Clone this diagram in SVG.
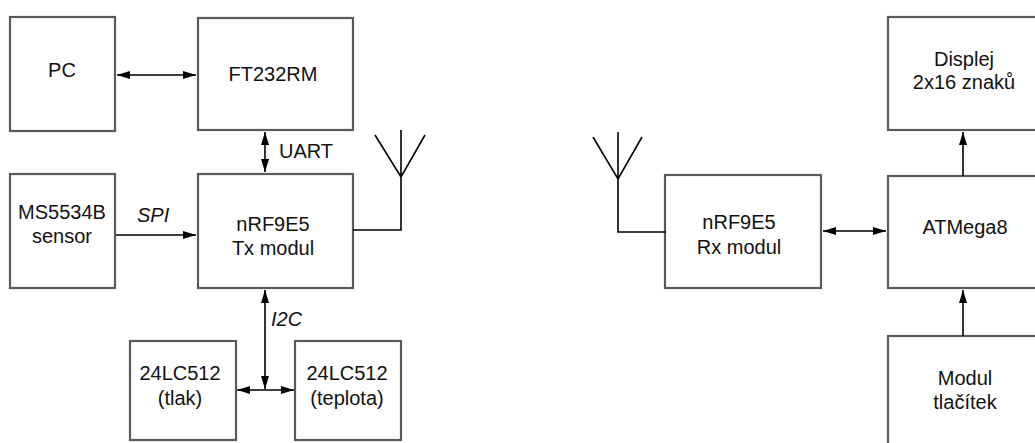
<svg xmlns="http://www.w3.org/2000/svg" width="1035" height="443" viewBox="0 0 1035 443">
<style>
.box{fill:#fff;stroke:#5a5a5a;stroke-width:2.2}
.t{font-family:"Liberation Sans",Arial,sans-serif;font-size:20px;fill:#111;text-anchor:middle}
.lbl{font-family:"Liberation Sans",Arial,sans-serif;font-size:20px;fill:#111}
.it{font-style:italic}
.c{fill:none;stroke:#000;stroke-width:1.6}
</style>
<defs>
<marker id="ah" markerUnits="userSpaceOnUse" markerWidth="14" markerHeight="10" refX="13" refY="5" orient="auto-start-reverse">
<path d="M0,1 L13,5 L0,9 Z" fill="#000"/>
</marker>
</defs>
<rect width="1035" height="443" fill="#fff"/>
<g id="pc"><rect class="box" x="10" y="17" width="105" height="114"/><text class="t" x="62" y="77">PC</text></g>
<g id="ft232rm"><rect class="box" x="198" y="18" width="155" height="112"/><text class="t" x="273" y="81">FT232RM</text></g>
<g id="ms5534b"><rect class="box" x="10" y="174" width="105" height="114"/><text class="t" x="62" y="219">MS5534B</text><text class="t" x="62" y="243">sensor</text></g>
<g id="nrf-tx"><rect class="box" x="198" y="174" width="155" height="114"/><text class="t" x="273" y="231">nRF9E5</text><text class="t" x="273" y="255">Tx modul</text></g>
<g id="eeprom-tlak"><rect class="box" x="130" y="341" width="106" height="99"/><text class="t" x="180" y="380">24LC512</text><text class="t" x="180" y="405">(tlak)</text></g>
<g id="eeprom-teplota"><rect class="box" x="295" y="341" width="106" height="99"/><text class="t" x="347" y="380">24LC512</text><text class="t" x="347" y="405">(teplota)</text></g>
<g id="nrf-rx"><rect class="box" x="665" y="175" width="156" height="113"/><text class="t" x="739" y="229">nRF9E5</text><text class="t" x="739" y="254">Rx modul</text></g>
<g id="displej"><rect class="box" x="888" y="17" width="160" height="113"/><text class="t" x="964" y="66">Displej</text><text class="t" x="964" y="89">2x16 znaků</text></g>
<g id="atmega8"><rect class="box" x="888" y="176" width="160" height="112"/><text class="t" x="965" y="234">ATMega8</text></g>
<g id="tlacitka"><rect class="box" x="888" y="336" width="160" height="120"/><text class="t" x="965" y="385">Modul</text><text class="t" x="965" y="409">tlačítek</text></g>
<g id="antenna-tx" class="c"><path class="c" d="M353,230 H401 V130 M375,135 L401,177 L425,135"/></g>
<g id="antenna-rx"><path class="c" d="M666,232 H618 V132 M593,137 L618,179 L642,137"/></g>
<g id="connectors">
<line class="c" x1="117" y1="75" x2="196" y2="75" marker-start="url(#ah)" marker-end="url(#ah)"/>
<line class="c" x1="265" y1="132" x2="265" y2="172" marker-start="url(#ah)" marker-end="url(#ah)"/>
<line class="c" x1="116" y1="235" x2="196" y2="235" marker-end="url(#ah)"/>
<line class="c" x1="265" y1="290" x2="265" y2="389" marker-start="url(#ah)" marker-end="url(#ah)"/>
<line class="c" x1="237" y1="390" x2="294" y2="390" marker-start="url(#ah)" marker-end="url(#ah)"/>
<line class="c" x1="823" y1="231" x2="886" y2="231" marker-start="url(#ah)" marker-end="url(#ah)"/>
<line class="c" x1="963" y1="176" x2="963" y2="132" marker-end="url(#ah)"/>
<line class="c" x1="963" y1="336" x2="963" y2="290" marker-end="url(#ah)"/>
<text class="lbl" x="279" y="158">UART</text>
<text class="lbl it" x="137" y="222">SPI</text>
<text class="lbl it" x="271" y="326">I2C</text>
</g>
</svg>
